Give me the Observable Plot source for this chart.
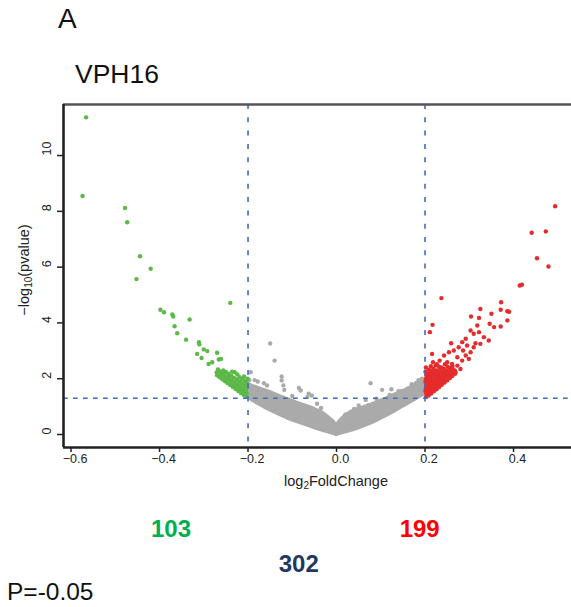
<!DOCTYPE html>
<html><head><meta charset="utf-8">
<script src="https://cdn.jsdelivr.net/npm/d3@7"></script>
<script src="https://cdn.jsdelivr.net/npm/@observablehq/plot@0.6"></script>
<style>
body{margin:0;background:#fff;}
#wrap{position:relative;width:571px;height:607px;overflow:hidden;}
</style></head><body><div id="wrap"></div>
<script>
// ---------- data ----------
const panelLetter = "A";
const chartTitle = "VPH16";
const xTicks = [-0.6, -0.4, -0.2, 0, 0.2, 0.4];
const xTickLabels = ["\u22120.6", "\u22120.4", "\u22120.2", "0.0", "0.2", "0.4"];
const yTicks = [0, 2, 4, 6, 8, 10];
const yTickLabels = ["0", "2", "4", "6", "8", "10"];
const fcCutoffs = [-0.2, 0.2];
const pCutoffs = [1.3];
const downCount = "103";
const upCount = "199";
const totalCount = "302";
const pNote = "P=-0.05";

// significant, down-regulated (green)
const downRegulated = [
  [-0.566,11.37],[-0.574,8.55],[-0.478,8.12],[-0.473,7.61],[-0.444,6.39],[-0.420,5.94],[-0.452,5.57],
  [-0.398,4.47],[-0.390,4.38],[-0.371,4.30],[-0.369,4.23],[-0.332,4.12],[-0.240,4.72],
  [-0.366,3.88],[-0.360,3.63],[-0.340,3.40],[-0.311,3.31],[-0.310,3.23],[-0.300,3.05],[-0.292,2.99],
  [-0.315,2.89],[-0.305,2.74],[-0.270,2.93],[-0.266,2.69],[-0.261,2.71],[-0.289,2.53],[-0.281,2.59],[-0.230,2.23],
  [-0.270,2.12],[-0.271,2.22],[-0.268,2.33],
  [-0.264,2.05],[-0.263,2.16],[-0.265,2.27],
  [-0.258,1.98],[-0.259,2.08],[-0.257,2.19],[-0.256,2.30],
  [-0.252,1.91],[-0.251,2.01],[-0.253,2.12],[-0.250,2.24],
  [-0.246,1.84],[-0.247,1.95],[-0.245,2.06],[-0.244,2.18],
  [-0.240,1.77],[-0.239,1.88],[-0.241,1.99],[-0.238,2.10],[-0.236,2.25],
  [-0.234,1.70],[-0.233,1.81],[-0.235,1.92],[-0.232,2.04],
  [-0.228,1.63],[-0.227,1.74],[-0.229,1.85],[-0.226,1.97],[-0.224,2.15],
  [-0.222,1.56],[-0.221,1.67],[-0.223,1.78],[-0.220,1.90],[-0.219,2.05],
  [-0.216,1.49],[-0.215,1.60],[-0.217,1.71],[-0.214,1.83],[-0.213,1.98],
  [-0.210,1.42],[-0.209,1.53],[-0.211,1.64],[-0.208,1.76],[-0.207,1.92],[-0.209,2.08],
  [-0.204,1.35],[-0.203,1.46],[-0.205,1.57],[-0.202,1.69],[-0.203,1.85],[-0.201,2.00]
];

// significant, up-regulated (red)
const upRegulated = [
  [0.494,8.18],[0.441,7.23],[0.473,7.28],[0.453,6.32],[0.479,6.02],[0.414,5.34],[0.419,5.37],
  [0.237,4.89],[0.325,4.50],[0.372,4.74],[0.371,4.47],[0.386,4.42],[0.390,4.40],[0.350,4.33],
  [0.322,4.18],[0.304,4.23],[0.217,3.93],[0.211,3.67],[0.386,4.09],[0.346,3.97],[0.356,3.85],[0.371,3.87],
  [0.318,3.91],[0.322,3.67],[0.310,3.61],[0.303,3.73],[0.333,3.49],[0.344,3.37],[0.325,3.25],[0.314,3.27],
  [0.292,3.43],[0.284,3.31],[0.295,3.19],[0.276,3.13],[0.286,3.01],[0.259,3.27],
  [0.310,3.13],[0.303,2.95],[0.292,2.83],[0.299,2.71],[0.284,2.65],[0.273,2.77],
  [0.265,3.01],[0.254,2.95],[0.243,2.83],[0.233,2.65],[0.250,2.59],[0.261,2.53],[0.216,2.89],
  [0.218,2.59],[0.224,2.47],[0.235,2.35],[0.246,2.29],[0.258,2.18],[0.269,2.23],[0.280,2.35],[0.273,2.47],
  [0.202,1.34],[0.203,1.45],[0.201,1.56],[0.202,1.67],[0.203,1.78],[0.201,1.89],[0.202,2.00],[0.203,2.12],[0.201,2.25],[0.202,2.40],
  [0.208,1.40],[0.207,1.51],[0.209,1.62],[0.208,1.73],[0.207,1.84],[0.209,1.95],[0.208,2.06],[0.207,2.18],[0.209,2.32],
  [0.214,1.47],[0.215,1.58],[0.213,1.69],[0.214,1.80],[0.215,1.91],[0.213,2.02],[0.214,2.14],[0.215,2.27],[0.213,2.45],
  [0.220,1.55],[0.219,1.66],[0.221,1.77],[0.220,1.88],[0.219,1.99],[0.221,2.10],[0.220,2.22],[0.219,2.36],
  [0.226,1.62],[0.227,1.73],[0.225,1.84],[0.226,1.95],[0.227,2.06],[0.225,2.18],[0.226,2.30],[0.227,2.52],
  [0.232,1.70],[0.231,1.81],[0.233,1.92],[0.232,2.03],[0.231,2.14],[0.233,2.26],[0.232,2.42],
  [0.238,1.78],[0.239,1.89],[0.237,2.00],[0.238,2.11],[0.239,2.22],[0.237,2.40],
  [0.244,1.86],[0.243,1.97],[0.245,2.08],[0.244,2.19],[0.243,2.35],[0.245,2.52],
  [0.250,1.94],[0.251,2.05],[0.249,2.16],[0.250,2.28],[0.251,2.43],
  [0.256,2.02],[0.255,2.13],[0.257,2.24],[0.256,2.38],
  [0.262,2.10],[0.261,2.21],[0.263,2.32],[0.262,2.45],
  [0.268,2.18],[0.267,2.30]
];

// not significant: scattered points above the dense cloud (grey)
const notSignificant = [
  [-0.150,3.26],[-0.140,2.65],[-0.194,2.23],[-0.124,2.08],[-0.124,1.94],[-0.164,1.84],[-0.157,1.76],
  [-0.120,1.76],[-0.118,1.60],[-0.085,1.67],[-0.081,1.58],[-0.063,1.46],[-0.066,1.34],[-0.044,1.10],
  [-0.056,1.40],[-0.185,1.95],[-0.178,1.90],[-0.197,1.95],[-0.100,1.38],[-0.035,0.95],
  [0.077,1.84],[0.103,1.60],[0.124,1.62],[0.145,1.55],[0.161,1.64],[0.090,1.28],[0.066,1.24],
  [0.050,1.04],[0.071,1.04],[0.180,1.85],[0.170,1.80],[0.185,1.95],[0.193,2.00],[0.020,0.72],
  [0.040,0.92],[0.120,1.42],[0.140,1.55]
];

// dense non-significant cloud: lower and upper edge per log2FC
const cloudX    = [-0.200,-0.19,-0.17,-0.15,-0.13,-0.11,-0.09,-0.07,-0.05,-0.03,-0.015,-0.005,0.000,0.005,0.015,0.03,0.05,0.07,0.09,0.11,0.13,0.15,0.17,0.19,0.200];
const cloudLow  = [1.29,1.18,1.00,0.83,0.68,0.54,0.42,0.31,0.20,0.10,0.03,-0.02,-0.05,-0.02,0.03,0.09,0.19,0.31,0.45,0.61,0.78,0.96,1.14,1.33,1.42];
const cloudHigh = [1.85,1.78,1.66,1.55,1.42,1.30,1.18,1.07,0.95,0.80,0.62,0.48,0.40,0.48,0.64,0.82,0.95,1.05,1.18,1.30,1.45,1.58,1.74,1.92,1.98];

// ---------- chart ----------
const grey = "#aaaaaa", green = "#5cb847", red = "#e52b2b", blue = "#3d6cc0";
const cloud = cloudX.map((x, i) => ({x, low: cloudLow[i], high: cloudHigh[i]}));
const toObj = a => a.map(([x, y]) => ({x, y}));

const chart = Plot.plot({
  width: 571, height: 607,
  marginLeft: 63, marginRight: 0, marginTop: 104, marginBottom: 160,
  x: {domain: [-0.617, 0.531]},
  y: {domain: [-0.466, 11.83]},
  style: {fontFamily: "'Liberation Sans', Arial, sans-serif", fontSize: "12.5px", color: "#222", background: "white", overflow: "visible"},
  marks: [
    Plot.areaY(cloud, {x: "x", y1: "low", y2: "high", fill: grey, stroke: grey, strokeWidth: 1.5, curve: "catmull-rom"}),
    Plot.dot(toObj(notSignificant), {x: "x", y: "y", r: 2.2, fill: grey}),
    Plot.dot(toObj(downRegulated), {x: "x", y: "y", r: 2.2, fill: green}),
    Plot.dot(toObj(upRegulated), {x: "x", y: "y", r: 2.2, fill: red}),
    Plot.ruleX(fcCutoffs, {stroke: blue, strokeWidth: 1.6, strokeDasharray: "5,8.3"}),
    Plot.ruleY(pCutoffs, {stroke: blue, strokeWidth: 1.6, strokeDasharray: "4.7,5.3"}),
    Plot.ruleY([11.83], {stroke: "#555", strokeWidth: 2.6}),
    Plot.ruleY([-0.466], {stroke: "#222", strokeWidth: 2.6}),
    Plot.ruleX([-0.617], {stroke: "#222", strokeWidth: 2.6}),
    Plot.axisX(xTicks, {tickSize: 5, strokeWidth: 1.5, stroke: "#222", fill: "none"}),
    Plot.axisY(yTicks, {tickSize: 6, strokeWidth: 1.5, stroke: "#222", fill: "none"}),
    Plot.text(xTicks, {x: d => d, frameAnchor: "bottom", dy: 15.7, dx: 4, text: (d, i) => xTickLabels[i], fill: "#222", fontSize: 12.5}),
    Plot.text(yTicks, {y: d => d, frameAnchor: "left", dx: -16.3, rotate: -90, text: (d, i) => yTickLabels[i], fill: "#222", fontSize: 12.5})
  ]
});
document.getElementById("wrap").appendChild(chart);

// ---------- titles & annotations ----------
const svg = d3.select(chart);
const ff = "'Liberation Sans', Arial, sans-serif";
function addText(x, y, str, size, color, anchor, weight) {
  return svg.append("text").attr("x", x).attr("y", y).attr("font-family", ff)
    .attr("font-size", size).attr("fill", color).attr("text-anchor", anchor || "start")
    .attr("font-weight", weight || "normal").text(str);
}
addText(58, 28, panelLetter, 28, "#111");
addText(75, 83, chartTitle, 26.5, "#111");
addText(171, 536.5, downCount, 24, "#00b050", "middle", "bold");
addText(419.7, 536.5, upCount, 24, "#ff0000", "middle", "bold");
addText(298.8, 571.5, totalCount, 24, "#1f3864", "middle", "bold");
addText(7, 600, pNote, 24.5, "#111");

// x axis title: log2FoldChange
const xt = svg.append("text").attr("x", 336).attr("y", 485.5).attr("text-anchor", "middle")
  .attr("font-family", ff).attr("font-size", 14.5).attr("fill", "#222");
xt.append("tspan").text("log");
xt.append("tspan").attr("font-size", 10).attr("dy", 3.5).text("2");
xt.append("tspan").attr("dy", -3.5).text("FoldChange");

// y axis title: -log10(pvalue)
const yt = svg.append("text").attr("transform", "translate(28.5,270) rotate(-90)").attr("text-anchor", "middle")
  .attr("font-family", ff).attr("font-size", 14.5).attr("fill", "#222");
yt.append("tspan").text("\u2212log");
yt.append("tspan").attr("font-size", 10).attr("dy", 3.5).text("10");
yt.append("tspan").attr("dy", -3.5).text("(pvalue)");
</script>
</body></html>
